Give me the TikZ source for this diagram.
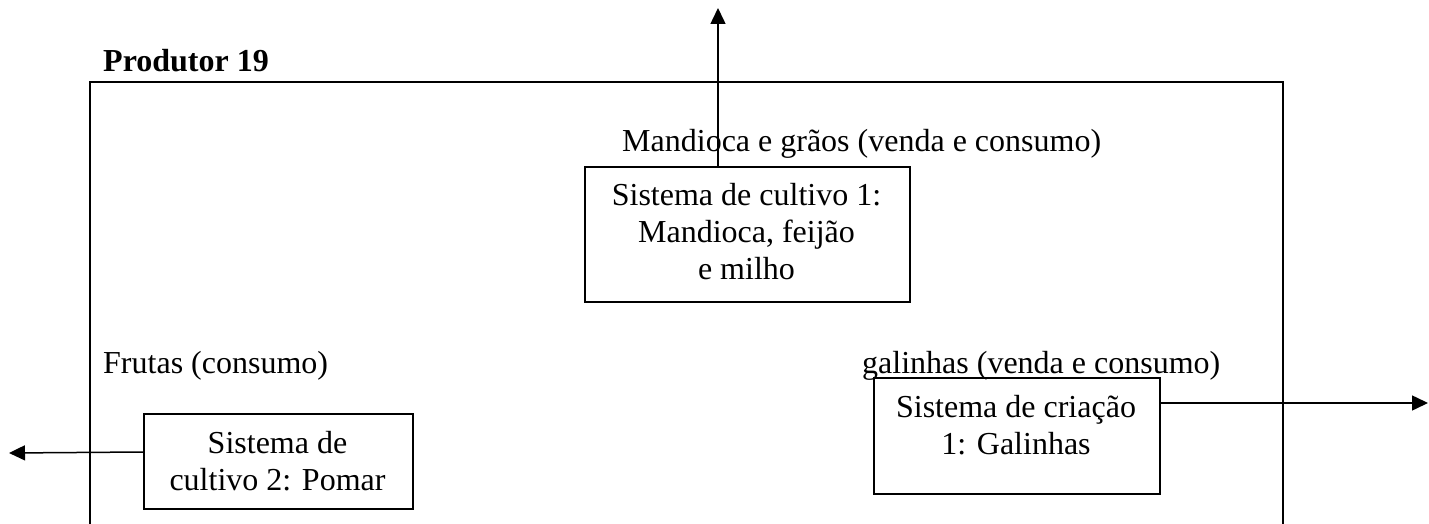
\documentclass[tikz,border=0pt]{standalone}
\usepackage{fontspec}
\setmainfont{Liberation Serif}
\usetikzlibrary{arrows.meta}
\begin{document}
\begin{tikzpicture}[x=1pt,y=-1pt,
  lbl/.style={font=\fontsize{32}{37}\selectfont, inner sep=0pt},
  sysbox/.style={draw, line width=1.6pt, inner sep=0pt},
  flow/.style={line width=1.5pt, -{Triangle[length=16pt,width=15pt]}}]
\useasboundingbox (0,0) rectangle (1429,524);
\clip (0,0) rectangle (1429,524);
% frame
\draw[line width=1.8pt] (90,540) -- (90,82) -- (1283,82) -- (1283,540);
\node[lbl, font=\fontsize{32}{37}\selectfont\bfseries, anchor=base west] (title) at (103,72) {Produtor 19};
% labels
\node[lbl, anchor=base west] (l1) at (622,151) {Mandioca e grãos (venda e consumo)};
\node[lbl, anchor=base west] (l2) at (103,373) {Frutas (consumo)};
\node[lbl, anchor=base west] (l3) at (862,373) {galinhas (venda e consumo)};
% boxes
\node[sysbox, minimum width=325pt, minimum height=135pt, anchor=north west] (b1) at (584,166) {};
\node[lbl, align=center, anchor=base] (t1) at (746.5,279) {Sistema de cultivo 1:\\Mandioca, feijão\\e milho};
\node[sysbox, minimum width=269pt, minimum height=95pt, anchor=north west] (b2) at (143,413) {};
\node[lbl, align=center, anchor=base] (t2) at (277.5,490) {Sistema de\\cultivo 2: Pomar};
\node[sysbox, minimum width=286pt, minimum height=116pt, anchor=north west] (b3) at (873,377) {};
\node[lbl, align=center, anchor=base] (t3) at (1016,454) {Sistema de criação\\1: Galinhas};
% outputs
\coordinate (o1) at (718,8);
\coordinate (o2) at (9,453);
\coordinate (o3) at (1428,403);
\draw[flow] (b1.north west -| o1) -- (o1);
\draw[flow] (b2.west |- 0,452) -- (o2);
\draw[flow] (b3.east |- 0,403) -- (o3);
\end{tikzpicture}
\end{document}
